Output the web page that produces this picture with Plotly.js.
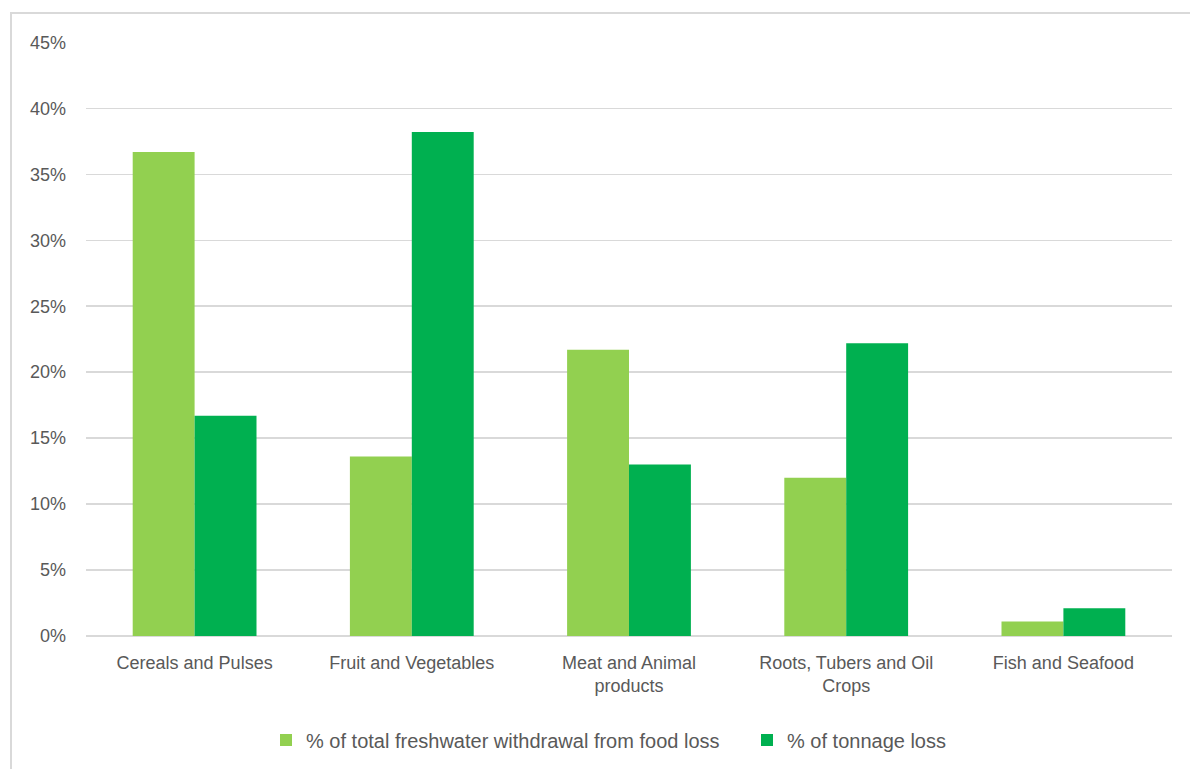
<!DOCTYPE html>
<html>
<head>
<meta charset="utf-8">
<script src="https://cdn.plot.ly/plotly-3.0.1.min.js"></script>
<style>
html,body{margin:0;padding:0;background:#fff;}
#chart{width:1190px;height:769px;}
</style>
</head>
<body>
<div id="chart"></div>
<script>
const categories = ["Cereals and Pulses", "Fruit and Vegetables", "Meat and Animal<br>products", "Roots, Tubers and Oil<br>Crops", "Fish and Seafood"];
const freshwaterShare = [0.367, 0.136, 0.217, 0.120, 0.011];
const tonnageShare = [0.167, 0.382, 0.130, 0.222, 0.021];
const seriesNames = ["% of total freshwater withdrawal from food loss", "% of tonnage loss"];
const tickVals = [0, 0.05, 0.10, 0.15, 0.20, 0.25, 0.30, 0.35, 0.40, 0.45];
const tickText = ["0%", "5%", "10%", "15%", "20%", "25%", "30%", "35%", "40%", "45%"];

const W = 1190, H = 769;
const margin = {l: 86, r: 18, t: 42, b: 133};
const pw = W - margin.l - margin.r, ph = H - margin.t - margin.b;
const fontFam = "Liberation Sans, Arial, sans-serif";
const textColor = "#595959";

const data = [
  {type: "bar", name: seriesNames[0], x: categories, y: freshwaterShare, marker: {color: "#92d050"}, hoverinfo: "none", legend: "legend"},
  {type: "bar", name: seriesNames[1], x: categories, y: tonnageShare, marker: {color: "#00b050"}, hoverinfo: "none", legend: "legend2"}
];

const legendBase = {
  orientation: "h", xanchor: "left",
  y: -(740 - 636) / ph, yanchor: "middle",
  font: {family: fontFam, size: 20, color: textColor},
  itemwidth: 30, tracegroupgap: 0, itemclick: false,
  bgcolor: "rgba(0,0,0,0)", borderwidth: 0
};

const layout = {
  width: W, height: H,
  margin: Object.assign({autoexpand: false}, margin),
  paper_bgcolor: "#fff", plot_bgcolor: "#fff",
  barmode: "group",
  bargap: 0.43,
  bargroupgap: 0,
  font: {family: fontFam, size: 18, color: textColor},
  xaxis: {
    type: "category",
    showgrid: false, zeroline: false, showline: false,
    ticks: "", tickfont: {family: fontFam, size: 18, color: textColor},
    ticklabelstandoff: 14
  },
  yaxis: {
    range: [0, 0.4503],
    tickvals: tickVals, ticktext: tickText,
    showgrid: true, gridcolor: "#d9d9d9", gridwidth: 1.5,
    zeroline: true, zerolinecolor: "#d9d9d9", zerolinewidth: 1.5,
    showline: false, ticks: "",
    tickfont: {family: fontFam, size: 18, color: textColor},
    ticklabelstandoff: 19
  },
  showlegend: true,
  legend: Object.assign({}, legendBase, {x: (266 - margin.l) / pw}),
  legend2: Object.assign({}, legendBase, {x: (747 - margin.l) / pw}),
  shapes: [{
    type: "rect", xref: "paper", yref: "paper",
    x0: (11 - margin.l) / pw, x1: (W + 5 - margin.l) / pw,
    y0: -(H + 5 - (H - margin.b)) / ph, y1: ((H - margin.b) - 13) / ph,
    line: {color: "#d9d9d9", width: 2}, fillcolor: "rgba(0,0,0,0)", layer: "below"
  }]
};

Plotly.newPlot("chart", data, layout, {displayModeBar: false, staticPlot: true});
</script>
</body>
</html>
